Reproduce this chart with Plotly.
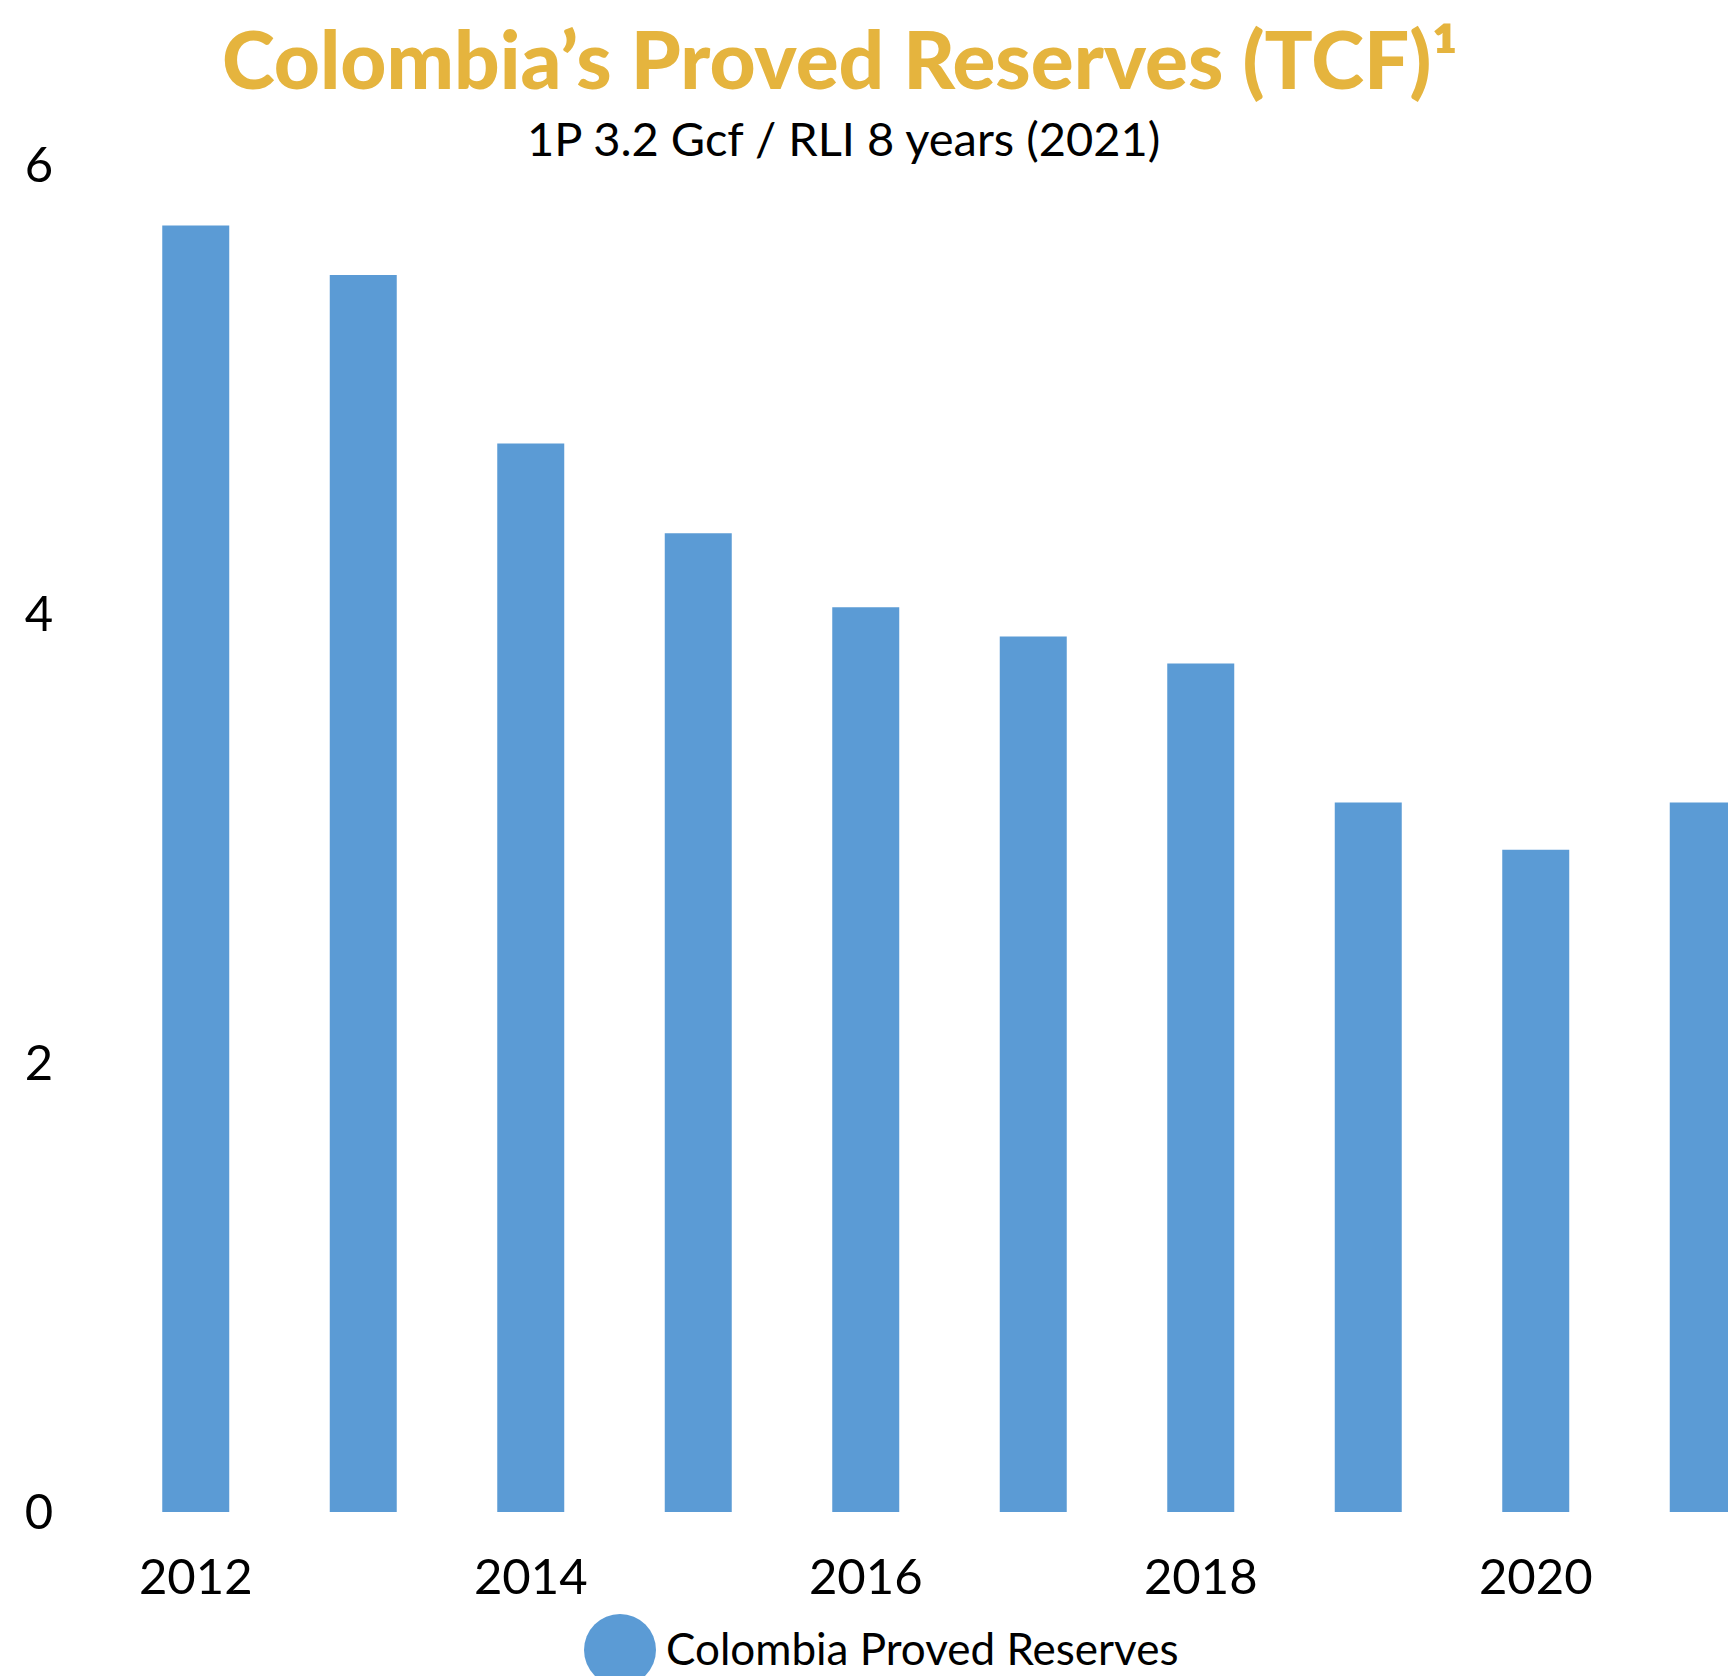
import plotly.graph_objects as go

# Colombia proved gas reserves, trillion cubic feet
years = [2012, 2013, 2014, 2015, 2016, 2017, 2018, 2019, 2020, 2021]
reserves_tcf = [5.73, 5.51, 4.76, 4.36, 4.03, 3.90, 3.78, 3.16, 2.95, 3.16]
x_tick_years = [2012, 2014, 2016, 2018, 2020]
y_ticks = [0, 2, 4, 6]

BAR_BLUE = "#5B9BD5"
GOLD = "#E5B43E"

W, H = 1728, 1676
M_L, M_R, M_T, M_B = 112, 0, 165, 164
plot_w = W - M_L - M_R
plot_h = H - M_T - M_B


def px_to_paper_x(px):
    return (px - M_L) / plot_w


def px_to_paper_y(py):
    return (H - M_B - py) / plot_h


fig = go.Figure()
fig.add_trace(go.Bar(
    x=years,
    y=reserves_tcf,
    width=0.4,
    marker=dict(color=BAR_BLUE, line=dict(width=0)),
    name="Colombia Proved Reserves",
    showlegend=False,
))

fig.update_layout(
    width=W,
    height=H,
    margin=dict(l=M_L, r=M_R, t=M_T, b=M_B),
    paper_bgcolor="white",
    plot_bgcolor="white",
    font=dict(family="Lato, sans-serif", color="black"),
    xaxis=dict(
        range=[2011.5, 2011.5 + plot_w / 167.5],
        tickvals=x_tick_years,
        ticktext=[str(y) for y in x_tick_years],
        tickfont=dict(size=49, color="black"),
        ticks="outside",
        ticklen=22,
        tickcolor="rgba(0,0,0,0)",
        showgrid=False,
        zeroline=False,
        showline=False,
    ),
    yaxis=dict(
        range=[0, 6],
        tickvals=y_ticks,
        tickfont=dict(size=49, color="black"),
        ticks="outside",
        ticklen=48,
        tickcolor="rgba(0,0,0,0)",
        showgrid=False,
        zeroline=False,
        showline=False,
    ),
    bargap=0.6,
)

# Title and subtitle
fig.add_annotation(
    text="Colombia’s Proved Reserves (TCF)¹",
    xref="paper", yref="paper",
    x=px_to_paper_x(840), y=px_to_paper_y(108),
    xanchor="center", yanchor="bottom",
    showarrow=False,
    font=dict(family="Lato, sans-serif", size=80, color=GOLD, weight=900),
)
fig.add_annotation(
    text="1P 3.2 Gcf / RLI 8 years (2021)",
    xref="paper", yref="paper",
    x=px_to_paper_x(843), y=px_to_paper_y(108),
    xanchor="center", yanchor="top",
    showarrow=False,
    font=dict(family="Lato, sans-serif", size=47, color="black"),
)

# Legend: round swatch and series label
fig.add_shape(
    type="circle",
    xref="paper", yref="paper",
    x0=px_to_paper_x(584), x1=px_to_paper_x(656),
    y0=px_to_paper_y(1614), y1=px_to_paper_y(1686),
    fillcolor=BAR_BLUE,
    line=dict(width=0),
)
fig.add_annotation(
    text="Colombia Proved Reserves",
    xref="paper", yref="paper",
    x=px_to_paper_x(664), y=px_to_paper_y(1648),
    xanchor="left", yanchor="middle",
    showarrow=False,
    font=dict(family="Lato, sans-serif", size=44, color="black"),
)

fig.write_html("out.html")
